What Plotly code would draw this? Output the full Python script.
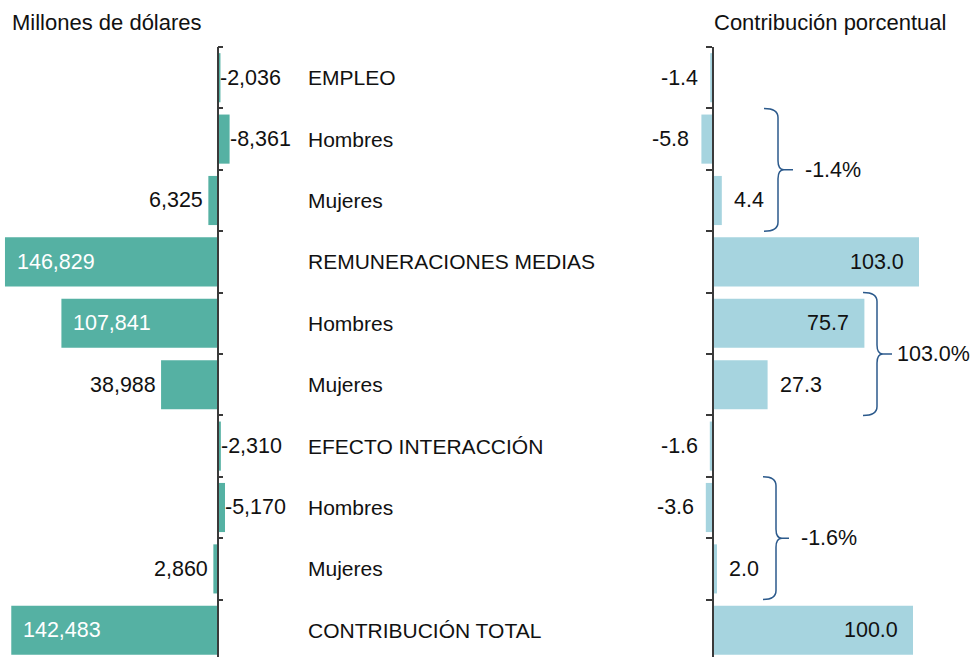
import plotly.graph_objects as go

categories = ["EMPLEO", "Hombres", "Mujeres", "REMUNERACIONES MEDIAS", "Hombres",
              "Mujeres", "EFECTO INTERACCIÓN", "Hombres", "Mujeres", "CONTRIBUCIÓN TOTAL"]
millones = [-2036, -8361, 6325, 146829, 107841, 38988, -2310, -5170, 2860, 142483]
contrib = [-1.4, -5.8, 4.4, 103.0, 75.7, 27.3, -1.6, -3.6, 2.0, 100.0]
group_labels = ["-1.4%", "103.0%", "-1.6%"]
group_rows = [(1, 2), (4, 5), (7, 8)]

W, H = 972, 657
TEAL = "#55B1A3"
LBLUE = "#A6D4DF"
AXC = "#3a3a3a"
FONT = "Liberation Sans, Arial, sans-serif"
FS = 21
FS_VAL = 21.5
FS_TITLE = 22
BRACE = "#2C5A8C"

rows = list(range(len(categories)))

fig = go.Figure()
fig.add_trace(go.Bar(x=millones, y=rows, orientation="h", xaxis="x", yaxis="y",
                     marker=dict(color=TEAL, line=dict(width=0)), width=0.8,
                     hoverinfo="skip"))
fig.add_trace(go.Bar(x=contrib, y=rows, orientation="h", xaxis="x2", yaxis="y2",
                     marker=dict(color=LBLUE, line=dict(width=0)), width=0.8,
                     hoverinfo="skip"))

top_px = 47
row_px = 61.4
ytop_frac = 1 - top_px / H
ybottom_val = -0.5 + (H - top_px) / row_px
yrange = [ybottom_val, -0.5]
tickv = [i - 0.5 for i in range(len(categories) + 1)]

# left panel: 0 at x=217.5px, 690.9 units per px, reversed
lx0 = 217.5
lupp = 690.9
ldom = [0, 300 / W]
lrange = [lx0 * lupp, -(300 - lx0) * lupp]
# right panel: 0 at x=713px, 2 px per unit
rx0 = 713
rppu = 2.0
rdom = [640 / W, 1]
rrange = [(640 - rx0) / rppu, (W - rx0) / rppu]

fig.update_layout(
    width=W, height=H,
    margin=dict(l=0, r=0, t=0, b=0),
    paper_bgcolor="white", plot_bgcolor="rgba(0,0,0,0)",
    showlegend=False, barmode="overlay",
    font=dict(family=FONT, size=FS, color="#111111"),
    xaxis=dict(domain=ldom, range=lrange, visible=False, anchor="y"),
    yaxis=dict(domain=[0, ytop_frac], range=yrange, anchor="free",
               position=lx0 / W, side="right", showline=True, linecolor=AXC,
               linewidth=1.5, ticks="outside", ticklen=5, tickwidth=1.5,
               tickcolor=AXC, tickvals=tickv, showticklabels=False,
               showgrid=False, zeroline=False),
    xaxis2=dict(domain=rdom, range=rrange, visible=False, anchor="y2"),
    yaxis2=dict(domain=[0, ytop_frac], range=yrange, anchor="free",
                position=rx0 / W, side="left", showline=True, linecolor=AXC,
                linewidth=1.5, ticks="outside", ticklen=6, tickwidth=1.5,
                tickcolor=AXC, tickvals=tickv, showticklabels=False,
                showgrid=False, zeroline=False),
)

ann = []
# titles
ann.append(dict(text="Millones de dólares", x=10 / W, y=1 - 23 / H, xref="paper",
                yref="paper", xanchor="left", yanchor="middle", showarrow=False,
                font=dict(size=FS_TITLE)))
ann.append(dict(text="Contribución porcentual", x=712 / W, y=1 - 23 / H, xref="paper",
                yref="paper", xanchor="left", yanchor="middle", showarrow=False,
                font=dict(size=FS_TITLE)))
# category labels
for i, c in enumerate(categories):
    ann.append(dict(text=c, x=305.5 / W, y=i, xref="paper", yref="y", xanchor="left",
                    yanchor="middle", showarrow=False))

lmax = max(abs(v) for v in millones)
for i, v in enumerate(millones):
    t = f"{v:,}"
    if abs(v) > 0.5 * lmax:
        ann.append(dict(text=t, x=v, y=i, xref="x", yref="y", xanchor="left",
                        xshift=10, showarrow=False,
                        font=dict(color="white", size=FS_VAL)))
    elif v >= 0:
        ann.append(dict(text=t, x=v, y=i, xref="x", yref="y", xanchor="right",
                        xshift=-3, showarrow=False, font=dict(size=FS_VAL)))
    else:
        ann.append(dict(text=t, x=v, y=i, xref="x", yref="y", xanchor="left",
                        xshift=-2, showarrow=False, font=dict(size=FS_VAL)))

rmax = max(abs(v) for v in contrib)
for i, v in enumerate(contrib):
    t = f"{v:.1f}"
    if abs(v) > 0.5 * rmax:
        ann.append(dict(text=t, x=v, y=i, xref="x2", yref="y2", xanchor="right",
                        xshift=-13, showarrow=False, font=dict(size=FS_VAL)))
    elif v >= 0:
        ann.append(dict(text=t, x=v, y=i, xref="x2", yref="y2", xanchor="left",
                        xshift=10, showarrow=False, font=dict(size=FS_VAL)))
    else:
        ann.append(dict(text=t, x=v, y=i, xref="x2", yref="y2", xanchor="right",
                        xshift=-10, showarrow=False, font=dict(size=FS_VAL)))

# braces (pixel x positions -> x2 units)
def px2x(p):
    return (p - rx0) / rppu

brace_x = [(764, 778, 793), (863, 877, 892), (763, 776, 789)]
shapes = []
for (r0, r1), lab, (bx0, bxv, bxt) in zip(group_rows, group_labels, brace_x):
    yt = r0 - 0.5
    yb = r1 + 0.5
    ym = (yt + yb) / 2
    ry = 9 / row_px
    x0, xv, xt = px2x(bx0), px2x(bxv), px2x(bxt)
    xm = px2x(bxv + 6)
    path = (f"M {x0},{yt} Q {xv},{yt} {xv},{yt + ry} "
            f"L {xv},{ym - ry} Q {xv},{ym} {xm},{ym} L {xt},{ym} "
            f"M {xm},{ym} Q {xv},{ym} {xv},{ym + ry} "
            f"L {xv},{yb - ry} Q {xv},{yb} {x0},{yb}")
    shapes.append(dict(type="path", path=path, xref="x2", yref="y2",
                       line=dict(color=BRACE, width=1.5)))
    ann.append(dict(text=lab, x=xt, y=ym, xref="x2", yref="y2", xanchor="left",
                    xshift=10 if lab != "103.0%" else 3, showarrow=False,
                    font=dict(size=FS_VAL)))

fig.update_layout(annotations=ann, shapes=shapes)

fig.write_html("out.html", config={"displayModeBar": False},
               post_script="document.body.style.margin='0';document.body.style.overflow='hidden';")
